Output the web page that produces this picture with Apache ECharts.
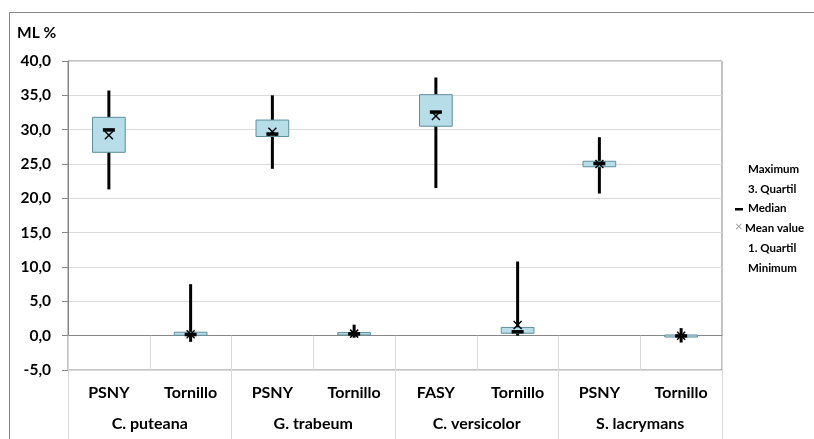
<!DOCTYPE html>
<html>
<head>
<meta charset="utf-8">
<script src="https://cdn.jsdelivr.net/npm/echarts@6/dist/echarts.min.js"></script>
<style>
  html, body { margin: 0; padding: 0; background: #fff; }
  #chart { width: 814px; height: 439px; }
</style>
</head>
<body>
<div id="chart"></div>
<script>
  // categories
  const categories = ['PSNY', 'Tornillo', 'PSNY', 'Tornillo', 'FASY', 'Tornillo', 'PSNY', 'Tornillo'];
  const groups = ['C. puteana', 'G. trabeum', 'C. versicolor', 'S. lacrymans'];

  // values (ML %)
  const minimum = [21.3, -0.9, 24.3, -0.3, 21.5, 0.0, 20.7, -1.0];
  const quartil1 = [26.7, 0.05, 29.0, 0.1, 30.5, 0.35, 24.6, -0.2];
  const median = [30.0, 0.2, 29.4, 0.3, 32.6, 0.6, 25.1, 0.0];
  const quartil3 = [31.8, 0.5, 31.4, 0.45, 35.1, 1.2, 25.4, 0.1];
  const maximum = [35.7, 7.5, 35.0, 1.6, 37.6, 10.8, 28.9, 1.1];
  const meanValue = [29.2, 0.2, 29.7, 0.3, 32.0, 1.55, 25.0, 0.0];

  const legendItems = ['Maximum', '3. Quartil', 'Median', 'Mean value', '1. Quartil', 'Minimum'];

  const FONT = 'Lato';
  const chart = echarts.init(document.getElementById('chart'));

  const seriesData = categories.map((c, i) => [i, minimum[i], quartil1[i], median[i], quartil3[i], maximum[i], meanValue[i]]);

  function renderBox(params, api) {
    const x = api.value(0);
    const band = api.size([1, 0])[0];
    const bw = band * 0.4;
    const pMin = api.coord([x, api.value(1)]);
    const pQ1 = api.coord([x, api.value(2)]);
    const pMed = api.coord([x, api.value(3)]);
    const pQ3 = api.coord([x, api.value(4)]);
    const pMax = api.coord([x, api.value(5)]);
    const pMean = api.coord([x, api.value(6)]);
    const cx = pMin[0];
    const m = 4;
    return {
      type: 'group',
      children: [
        {
          type: 'line',
          shape: { x1: cx, y1: pMax[1], x2: cx, y2: pMin[1] },
          style: { stroke: '#000', lineWidth: 3 },
        },
        {
          type: 'rect',
          shape: { x: cx - bw / 2, y: pQ3[1], width: bw, height: Math.max(pQ1[1] - pQ3[1], 2) },
          style: { fill: '#b7dde8', stroke: '#5f8e9c', lineWidth: 1 },
        },
        {
          type: 'rect',
          shape: { x: cx - 6, y: pMed[1] - 1.5, width: 12, height: 3.5 },
          style: { fill: '#000' },
        },
        {
          type: 'polyline',
          shape: { points: [[cx - m, pMean[1] - m], [cx + m, pMean[1] + m]] },
          style: { stroke: '#000', lineWidth: 1.5 },
        },
        {
          type: 'polyline',
          shape: { points: [[cx - m, pMean[1] + m], [cx + m, pMean[1] - m]] },
          style: { stroke: '#000', lineWidth: 1.5 },
        },
      ],
    };
  }

  const legendGraphics = legendItems.map((name, i) => ({
    type: 'text',
    left: name === 'Mean value' ? 745 : 748,
    top: 163 + i * 19.8,
    style: {
      text: name,
      font: 'bold 11.5px ' + FONT,
      fill: '#000',
    },
  }));
  legendGraphics.push({
    type: 'rect',
    shape: { x: 735, y: 208, width: 8, height: 2.5 },
    style: { fill: '#000' },
  });
  legendGraphics.push({
    type: 'text',
    left: 735,
    top: 220,
    style: { text: '×', font: '13px ' + FONT, fill: '#999' },
  });

  const option = {
    animation: false,
    grid: {
      left: 68,
      right: 92,
      top: 61,
      bottom: 69,
      containLabel: false,
      show: true,
      borderColor: '#868686',
      borderWidth: 1,
    },
    xAxis: [
      {
        type: 'category',
        data: categories,
        position: 'bottom',
        axisLine: { show: true, lineStyle: { color: '#868686' } },
        axisTick: { show: true, length: 35, interval: 0, lineStyle: { color: '#d9d9d9' } },
        axisLabel: { interval: 0, margin: 15, color: '#000', fontFamily: FONT, fontWeight: 'bold', fontSize: 16 },
        splitLine: { show: false },
      },
      {
        type: 'category',
        data: groups,
        position: 'bottom',
        axisLine: { show: false },
        axisTick: { show: true, length: 70, interval: 0, lineStyle: { color: '#d9d9d9' } },
        axisLabel: { interval: 0, margin: 46, color: '#000', fontFamily: FONT, fontWeight: 'bold', fontSize: 16 },
        splitLine: { show: false },
      },
    ],
    yAxis: {
      type: 'value',
      min: -5,
      max: 40,
      interval: 5,
      axisLine: { show: true, lineStyle: { color: '#868686' } },
      axisTick: { show: true, length: 6, lineStyle: { color: '#868686' } },
      axisLabel: {
        margin: 17,
        color: '#000',
        fontFamily: FONT,
        fontWeight: 'bold',
        fontSize: 15.5,
        formatter: (v) => v.toFixed(1).replace('.', ','),
      },
      splitLine: { show: true, lineStyle: { color: '#d9d9d9' } },
    },
    graphic: [
      {
        type: 'rect',
        shape: { x: 9.5, y: 12.5, width: 830, height: 440 },
        style: { fill: 'none', stroke: '#868686', lineWidth: 1 },
        silent: true,
      },
      {
        type: 'text',
        left: 17,
        top: 25,
        style: { text: 'ML %', font: 'bold 15.5px ' + FONT, fill: '#000' },
      },
    ].concat(legendGraphics),
    series: [
      {
        type: 'custom',
        renderItem: renderBox,
        encode: { x: 0, y: [1, 2, 3, 4, 5, 6] },
        data: seriesData,
        z: 3,
      },
    ],
  };

  chart.setOption(option);
</script>
</body>
</html>
